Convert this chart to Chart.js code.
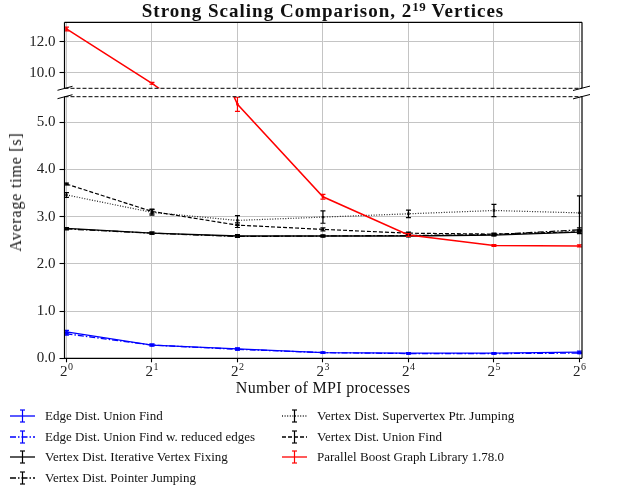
<!DOCTYPE html>
<html><head><meta charset="utf-8">
<script src="https://cdn.jsdelivr.net/npm/chart.js@4/dist/chart.umd.min.js"></script>
<style>
body{margin:0;background:#fff;width:617px;height:488px;overflow:hidden;position:relative;font-family:"Liberation Serif",serif;color:#111;}
canvas{position:absolute;left:0;top:0;}
#title{position:absolute;top:1px;left:64px;width:518px;text-align:center;font-weight:bold;font-size:19px;line-height:19px;letter-spacing:1px;white-space:nowrap;}
#title sup{font-size:0.68em;vertical-align:0.5em;line-height:0;letter-spacing:0.5px;}
#ylab{position:absolute;left:16px;top:192px;transform:translate(-50%,-50%) rotate(-90deg);font-size:16px;letter-spacing:0.8px;white-space:nowrap;}
#xlab{position:absolute;left:323px;top:388px;transform:translate(-50%,-50%);font-size:16px;letter-spacing:0.3px;white-space:nowrap;}
.xt{position:absolute;top:364px;transform:translateX(-50%);font-size:15px;line-height:15px;color:#222;white-space:nowrap;}
.xt sup{font-size:10px;vertical-align:6px;line-height:0;margin-left:0.5px;}
.lg{position:absolute;display:flex;align-items:center;height:20px;font-size:13px;white-space:nowrap;transform:translateY(-50%);}
.lg svg{margin-right:10px;}
</style>
</head><body>
<canvas id="cb" width="617" height="488"></canvas>
<canvas id="ct" width="617" height="488"></canvas>
<div id="title">Strong Scaling Comparison, 2<sup>19</sup> Vertices</div>
<div id="ylab">Average time [s]</div>
<div id="xlab">Number of MPI processes</div>
<div id="xticks"></div>
<div id="legend"></div>
<script>
// ---- data ----
const exponents = [0, 1, 2, 3, 4, 5, 6];           // x = log2(MPI processes)
const xTickExponents = [0, 1, 2, 3, 4, 5, 6];
const topTicks = [10, 12];
const bottomTicks = [0, 1, 2, 3, 4, 5];
const seriesNames = [
  "Edge Dist. Union Find",
  "Edge Dist. Union Find w. reduced edges",
  "Vertex Dist. Iterative Vertex Fixing",
  "Vertex Dist. Pointer Jumping",
  "Vertex Dist. Supervertex Ptr. Jumping",
  "Vertex Dist. Union Find",
  "Parallel Boost Graph Library 1.78.0"
];
const edgeUF        = [0.56, 0.28, 0.20, 0.12, 0.11, 0.11, 0.13];
const edgeUFErr     = [0.03, 0.02, 0.02, 0.01, 0.01, 0.01, 0.02];
const edgeUFRed     = [0.52, 0.28, 0.19, 0.12, 0.10, 0.10, 0.11];
const edgeUFRedErr  = [0.03, 0.02, 0.02, 0.01, 0.01, 0.01, 0.01];
const vIterFix      = [2.75, 2.65, 2.59, 2.59, 2.59, 2.61, 2.67];
const vIterFixErr   = [0.02, 0.02, 0.03, 0.02, 0.02, 0.02, 0.03];
const vPtrJump      = [2.74, 2.65, 2.58, 2.59, 2.60, 2.62, 2.72];
const vPtrJumpErr   = [0.02, 0.02, 0.02, 0.02, 0.02, 0.02, 0.04];
const vSuperPtr     = [3.46, 3.09, 2.92, 2.99, 3.06, 3.13, 3.08];
const vSuperPtrErr  = [0.05, 0.06, 0.10, 0.13, 0.08, 0.13, 0.36];
const vUnionFind    = [3.69, 3.11, 2.82, 2.73, 2.65, 2.63, 2.68];
const vUnionFindErr = [0.02, 0.05, 0.05, 0.03, 0.02, 0.02, 0.03];
const pbgl          = [12.82, 9.32, 5.38, 3.42, 2.61, 2.39, 2.38];
const pbglErr       = [0.12, 0.06, 0.15, 0.05, 0.03, 0.02, 0.02];

const BLUE = '#0000ff', RED = '#ff0000', BLACK = '#000000';
const DASH = [4, 2], DASHDOT = [6, 2, 1.5, 2], DOT = [1, 1.6];

const styles = [
  {vals: edgeUF,     errs: edgeUFErr,     color: BLUE,  dash: [],      ecol: BLUE,  w: 1.3},
  {vals: edgeUFRed,  errs: edgeUFRedErr,  color: BLUE,  dash: DASHDOT, ecol: BLUE,  w: 1.3},
  {vals: vIterFix,   errs: vIterFixErr,   color: BLACK, dash: [],      ecol: BLACK, w: 1.3},
  {vals: vPtrJump,   errs: vPtrJumpErr,   color: BLACK, dash: DASHDOT, ecol: BLACK, w: 1.3},
  {vals: vSuperPtr,  errs: vSuperPtrErr,  color: '#222', dash: DOT,    ecol: BLACK, w: 1.2},
  {vals: vUnionFind, errs: vUnionFindErr, color: BLACK, dash: DASH,    ecol: BLACK, w: 1.2},
  {vals: pbgl,       errs: pbglErr,       color: RED,   dash: [],      ecol: RED,   w: 1.5}
];

function makeDatasets() {
  return styles.map((s, i) => ({
    label: seriesNames[i],
    data: exponents.map((e, k) => ({x: e, y: s.vals[k]})),
    errors: s.errs,
    errColor: s.ecol,
    borderColor: s.color,
    backgroundColor: s.color,
    borderDash: s.dash,
    borderWidth: s.w,
    pointStyle: 'rect',
    pointRadius: 1.7,
    pointBorderWidth: 0,
    clip: 0,
    tension: 0,
    order: 10 - i
  }));
}

const errPlugin = {
  id: 'errbars',
  afterDatasetsDraw(chart) {
    const {ctx, chartArea: a, scales: {x, y}} = chart;
    ctx.save();
    ctx.beginPath();
    ctx.rect(a.left - 4, a.top, a.right - a.left + 8, a.bottom - a.top);
    ctx.clip();
    ctx.setLineDash([]);
    ctx.lineWidth = 1.2;
    chart.data.datasets.forEach(ds => {
      ctx.strokeStyle = ds.errColor;
      ds.data.forEach((p, i) => {
        const e = ds.errors[i];
        const px = x.getPixelForValue(p.x);
        const y1 = y.getPixelForValue(p.y - e), y2 = y.getPixelForValue(p.y + e);
        ctx.beginPath();
        ctx.moveTo(px, y1); ctx.lineTo(px, y2);
        ctx.moveTo(px - 2.5, y1); ctx.lineTo(px + 2.5, y1);
        ctx.moveTo(px - 2.5, y2); ctx.lineTo(px + 2.5, y2);
        ctx.stroke();
      });
    });
    ctx.restore();
  }
};

function line(ctx, x1, y1, x2, y2) { ctx.beginPath(); ctx.moveTo(x1, y1); ctx.lineTo(x2, y2); ctx.stroke(); }

function framePlugin(isTop) {
  return {
    id: 'frame',
    afterDraw(chart) {
      const {ctx, chartArea: a} = chart;
      ctx.save();
      ctx.strokeStyle = '#000';
      ctx.lineWidth = 1.2;
      ctx.setLineDash([]);
      line(ctx, a.left, a.top, a.left, a.bottom);
      line(ctx, a.right, a.top, a.right, a.bottom);
      const solidY = isTop ? a.top : a.bottom;
      const brokenY = isTop ? a.bottom : a.top;
      line(ctx, a.left, solidY, a.right, solidY);
      ctx.lineWidth = 1;
      ctx.setLineDash([4, 2]);
      line(ctx, a.left, brokenY, a.right, brokenY);
      ctx.setLineDash([]);
      ctx.lineWidth = 1;
      line(ctx, a.left - 7, brokenY + 2, a.left + 8, brokenY - 2);
      line(ctx, a.right - 9, brokenY + 2.2, a.right + 8, brokenY - 2.2);
      ctx.restore();
    }
  };
}

const FONT = {family: '"Liberation Serif", serif', size: 15};

function makeChart(id, isTop) {
  return new Chart(document.getElementById(id), {
    type: 'line',
    data: {datasets: makeDatasets()},
    options: {
      responsive: false,
      animation: false,
      devicePixelRatio: 1,
      events: [],
      layout: {padding: isTop ? {top: 22.3, bottom: 399.7, left: 0, right: 35}
                              : {top: 96.7, bottom: 99.7, left: 0, right: 35}},
      plugins: {legend: {display: false}, tooltip: {enabled: false}, title: {display: false}},
      scales: {
        x: {
          type: 'linear', min: -0.023, max: 6.03,
          afterBuildTicks: s => { s.ticks = xTickExponents.map(v => ({value: v})); },
          afterFit: s => { s.height = isTop ? 0 : 30; },
          border: {display: false},
          grid: {color: '#c4c4c4', lineWidth: 1, drawTicks: !isTop, tickLength: 4, tickColor: '#000', tickWidth: 1.1},
          ticks: {display: false}
        },
        y: {
          type: 'linear',
          min: isTop ? 9.0 : 0, max: isTop ? 13.25 : 5.54,
          afterBuildTicks: s => { s.ticks = (isTop ? topTicks : bottomTicks).map(v => ({value: v})); },
          afterFit: s => { s.width = 64.5; },
          border: {display: false},
          grid: {color: '#c4c4c4', lineWidth: 1, drawTicks: true, tickLength: 5, tickColor: '#000', tickWidth: 1.1},
          ticks: {padding: 4, color: '#222', font: FONT, callback: v => v.toFixed(1)}
        }
      }
    },
    plugins: [errPlugin, framePlugin(isTop)]
  });
}

const bottomChart = makeChart('cb', false);
makeChart('ct', true);

// x tick labels 2^k, placed with the chart's own x scale
const xt = document.getElementById('xticks');
xTickExponents.forEach(v => {
  const d = document.createElement('div');
  d.className = 'xt';
  d.style.left = bottomChart.scales.x.getPixelForValue(v) + 'px';
  d.innerHTML = '2<sup>' + v + '</sup>';
  xt.appendChild(d);
});

// ---- legend (HTML) ----
const legendPos = [
  {x: 10, y: 416}, {x: 10, y: 436.5}, {x: 10, y: 457}, {x: 10, y: 477.5},
  {x: 282, y: 416}, {x: 282, y: 436.5}, {x: 282, y: 457}
];
const lg = document.getElementById('legend');
styles.forEach((s, i) => {
  const d = document.createElement('div');
  d.className = 'lg';
  d.style.left = legendPos[i].x + 'px';
  d.style.top = legendPos[i].y + 'px';
  const dash = s.dash.length ? s.dash.join(',') : 'none';
  d.innerHTML =
    `<svg width="25" height="16" viewBox="0 0 25 16">
      <line x1="0" y1="8" x2="25" y2="8" stroke="${s.color}" stroke-width="1.3" stroke-dasharray="${dash}"/>
      <line x1="12.5" y1="2" x2="12.5" y2="14" stroke="${s.ecol}" stroke-width="1.2"/>
      <line x1="10" y1="2" x2="15" y2="2" stroke="${s.ecol}" stroke-width="1.2"/>
      <line x1="10" y1="14" x2="15" y2="14" stroke="${s.ecol}" stroke-width="1.2"/>
    </svg><span>${seriesNames[i]}</span>`;
  lg.appendChild(d);
});
</script>
</body></html>
